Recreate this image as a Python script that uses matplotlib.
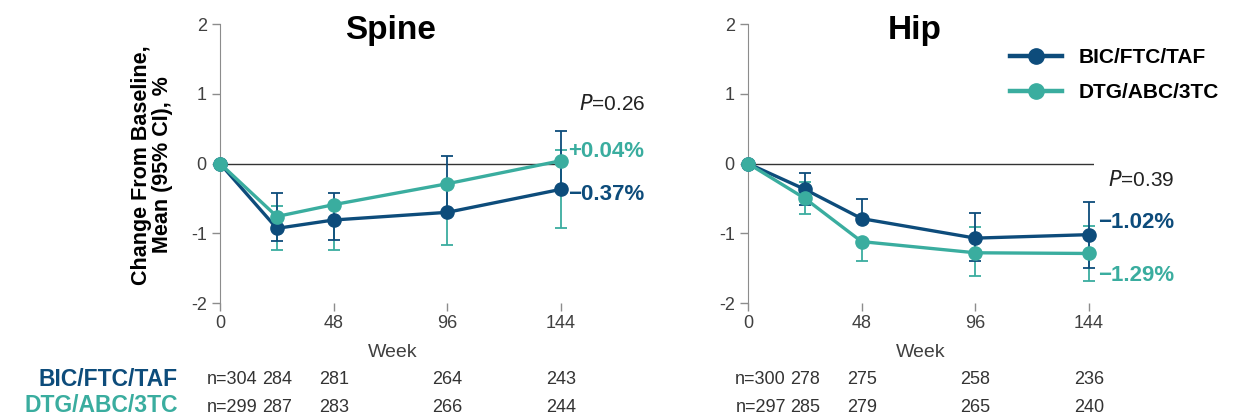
import matplotlib
matplotlib.use('Agg')
import matplotlib.pyplot as plt
import numpy as np
from matplotlib.lines import Line2D
import matplotlib.transforms as mtransforms

plt.rcParams['font.family'] = ['Liberation Sans', 'DejaVu Sans']

# Data
weeks = [0, 24, 48, 96, 144]
tick_weeks = [0, 48, 96, 144]

spine_bic = [0, -0.93, -0.81, -0.70, -0.37]
spine_bic_hi = [0, -0.43, -0.43, 0.11, 0.47]
spine_bic_lo = [0, -1.11, -1.09, -0.70, -0.37]
spine_dtg = [0, -0.76, -0.59, -0.29, 0.04]
spine_dtg_hi = [0, -0.61, -0.59, -0.29, 0.19]
spine_dtg_lo = [0, -1.24, -1.24, -1.17, -0.93]

hip_bic = [0, -0.37, -0.79, -1.07, -1.02]
hip_bic_hi = [0, -0.14, -0.51, -0.71, -0.55]
hip_bic_lo = [0, -0.60, -0.79, -1.40, -1.50]
hip_dtg = [0, -0.50, -1.12, -1.28, -1.29]
hip_dtg_hi = [0, -0.26, -1.12, -0.91, -0.90]
hip_dtg_lo = [0, -0.73, -1.40, -1.61, -1.69]

spine_n_bic = ['n=304', '284', '281', '264', '243']
spine_n_dtg = ['n=299', '287', '283', '266', '244']
hip_n_bic = ['n=300', '278', '275', '258', '236']
hip_n_dtg = ['n=297', '285', '279', '265', '240']

spine_labels = ['+0.04%', '\u22120.37%']
hip_labels = ['\u22121.02%', '\u22121.29%']

DARK = '#0D4C7B'
TEAL = '#3AAD9F'
GREY = '#404040'

W, H = 1236, 418
fig = plt.figure(figsize=(W / 100, H / 100), dpi=100)

ax_w = 146 * 2.368 / W
ax_b = (H - 303) / H
ax_h = (303 - 24) / H
ax1 = fig.add_axes([220 / W, ax_b, ax_w, ax_h])
ax2 = fig.add_axes([748 / W, ax_b, ax_w, ax_h])


def draw_panel(ax, bic, bic_lo, bic_hi, dtg, dtg_lo, dtg_hi):
    bic = np.array(bic)
    dtg = np.array(dtg)
    ax.axhline(0, color='#333333', lw=1.0, zorder=1)
    for m, lo, hi, c in [(dtg, dtg_lo, dtg_hi, TEAL), (bic, bic_lo, bic_hi, DARK)]:
        err = [m - np.array(lo), np.array(hi) - m]
        ax.errorbar(weeks, m, yerr=err, fmt='none', ecolor=c, elinewidth=1.3,
                    capsize=4, capthick=1.3, zorder=2, clip_on=False)
    ax.plot(weeks, bic, color=DARK, lw=2.4, marker='o', ms=9.5, zorder=3, clip_on=False)
    ax.plot(weeks, dtg, color=TEAL, lw=2.4, marker='o', ms=9.5, zorder=4, clip_on=False)
    ax.set_xlim(0, 146)
    ax.set_ylim(-2, 2)
    ax.set_yticks([-2, -1, 0, 1, 2])
    ax.set_yticklabels(['-2', '-1', '0', '1', '2'])
    ax.set_xticks(tick_weeks)
    for s in ['top', 'right', 'bottom']:
        ax.spines[s].set_visible(False)
    ax.spines['left'].set_color('#8c8c8c')
    ax.tick_params(axis='both', colors='#8c8c8c', labelcolor=GREY, labelsize=13,
                   length=6, width=1)
    ax.tick_params(axis='x', pad=3)
    ax.set_xlabel('Week', fontsize=14, color=GREY, labelpad=8)


draw_panel(ax1, spine_bic, spine_bic_lo, spine_bic_hi, spine_dtg, spine_dtg_lo, spine_dtg_hi)
draw_panel(ax2, hip_bic, hip_bic_lo, hip_bic_hi, hip_dtg, hip_dtg_lo, hip_dtg_hi)

# titles
fig.text(391 / W, 1 - 31 / H, 'Spine', fontsize=24, fontweight='bold', ha='center', va='center')
fig.text(915 / W, 1 - 31 / H, 'Hip', fontsize=24, fontweight='bold', ha='center', va='center')

# y label
fig.text(152 / W, 1 - 165 / H, 'Change From Baseline,\nMean (95% CI), %', fontsize=15.5,
         fontweight='bold', rotation=90, ha='center', va='center', linespacing=1.0)

# P values
ax1.text(179.5, 0.85, '$\\it{P}$=0.26', fontsize=15, ha='right', va='center', color='#222222')
ax2.text(180, -0.24, '$\\it{P}$=0.39', fontsize=15, ha='right', va='center', color='#222222')

# end labels
ax1.text(147, 0.17, spine_labels[0], color=TEAL, fontsize=16, fontweight='bold', va='center')
ax1.text(147, -0.45, spine_labels[1], color=DARK, fontsize=16, fontweight='bold', va='center')
ax2.text(148, -0.84, hip_labels[0], color=DARK, fontsize=16, fontweight='bold', va='center')
ax2.text(148, -1.60, hip_labels[1], color=TEAL, fontsize=16, fontweight='bold', va='center')

# legend
handles = [Line2D([0], [0], color=DARK, lw=3.2, marker='o', ms=11),
           Line2D([0], [0], color=TEAL, lw=3.2, marker='o', ms=11)]
fig.legend(handles, ['BIC/FTC/TAF', 'DTG/ABC/3TC'], loc='upper left',
           bbox_to_anchor=(1002 / W, 1 - 40 / H), frameon=False, handlelength=2.5,
           handletextpad=0.8, prop={'weight': 'bold', 'size': 15}, labelspacing=0.75,
           borderaxespad=0)

# n at risk table
fig.text(178 / W, 1 - 379 / H, 'BIC/FTC/TAF', color=DARK, fontsize=16.5, fontweight='bold',
         ha='right', va='center')
fig.text(178 / W, 1 - 406 / H, 'DTG/ABC/3TC', color=TEAL, fontsize=16.5, fontweight='bold',
         ha='right', va='center')

for ax, row1, row2 in [(ax1, spine_n_bic, spine_n_dtg), (ax2, hip_n_bic, hip_n_dtg)]:
    trans = mtransforms.blended_transform_factory(ax.transData, fig.transFigure)
    for i, w in enumerate(weeks):
        xpos = w if i > 0 else 16
        ha = 'center' if i > 0 else 'right'
        for row, yp in [(row1, 380), (row2, 407)]:
            ax.text(xpos, 1 - yp / H, row[i], transform=trans, ha=ha, va='center',
                    fontsize=13, color='#333333')

fig.savefig('out.png', dpi=100)
